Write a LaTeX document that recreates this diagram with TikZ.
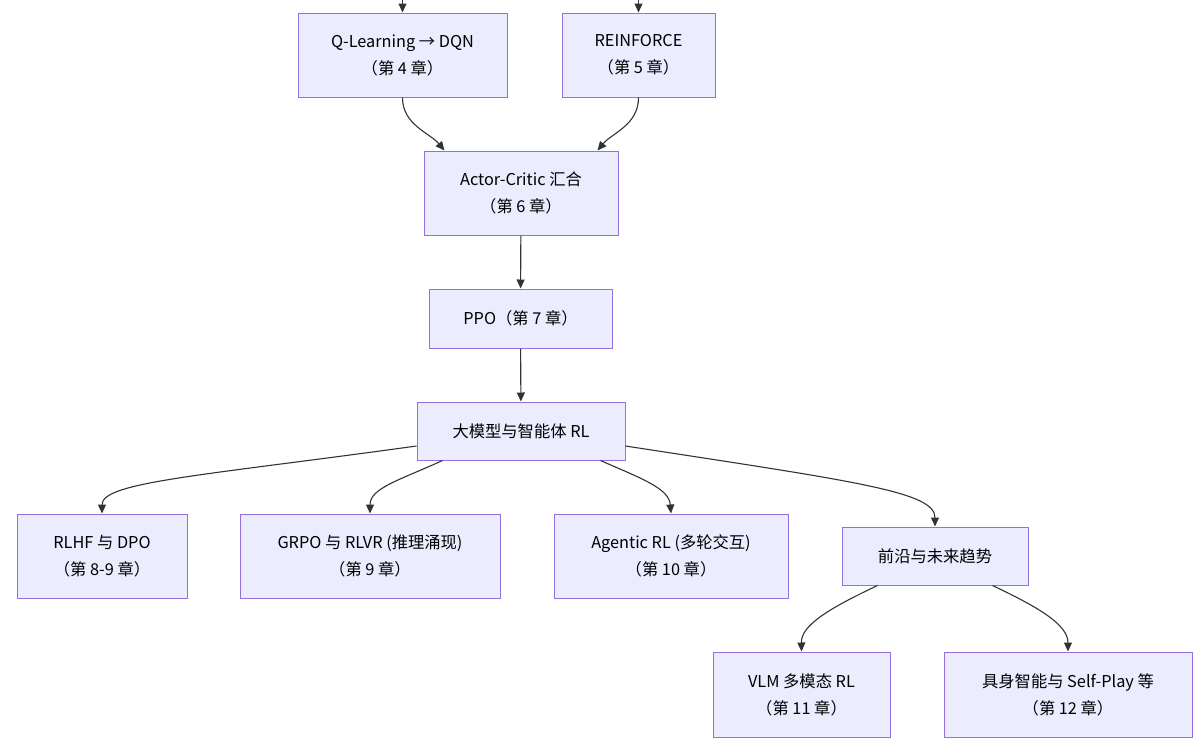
\documentclass[tikz,border=0pt]{standalone}
\usepackage{fontspec}
\setmainfont{Noto Sans CJK SC}
\usetikzlibrary{arrows.meta}
\definecolor{boxfill}{HTML}{ECECFF}
\definecolor{boxline}{HTML}{9370DB}
\definecolor{linkgray}{HTML}{333333}

\begin{document}
\begin{tikzpicture}[x=1pt,y=-1pt,
		box/.style={draw=boxline, fill=boxfill, line width=1pt, align=center, inner sep=0pt,
			font=\fontsize{16.3}{27}\selectfont},
		link/.style={draw=linkgray, line width=1.1pt, -{Triangle[length=9pt,width=8pt]}}]
		\useasboundingbox (0,0) rectangle (1200,753);
		
		% top row
		\node[box, minimum width=209pt, minimum height=84pt] (qdqn) at (402.5,55) {Q-Learning → DQN\\（第 4 章）};
		\node[box, minimum width=153pt, minimum height=84pt] (rein) at (638.5,55) {REINFORCE\\（第 5 章）};
		\coordinate (inq) at (402.5,0);
		\coordinate (inr) at (638.5,0);
		
		% middle
		\node[box, minimum width=194pt, minimum height=84pt] (ac) at (521,193) {Actor-Critic 汇合\\（第 6 章）};
		\node[box, minimum width=183pt, minimum height=59pt] (ppo) at (520.5,318.5) {PPO（第 7 章）};
		\node[box, minimum width=208pt, minimum height=58pt] (llm) at (521,431) {大模型与智能体 RL};
		
		% branches
		\node[box, minimum width=170pt, minimum height=84pt] (rlhf) at (102,556) {RLHF 与 DPO\\（第 8-9 章）};
		\node[box, minimum width=260pt, minimum height=84pt] (grpo) at (370,556) {GRPO 与 RLVR (推理涌现)\\（第 9 章）};
		\node[box, minimum width=234pt, minimum height=84pt] (agent) at (671,556) {Agentic RL (多轮交互)\\（第 10 章）};
		\node[box, minimum width=186pt, minimum height=58pt] (front) at (935,556) {前沿与未来趋势};
		
		% bottom
		\node[box, minimum width=177pt, minimum height=85pt] (vlm) at (801.5,694.5) {VLM 多模态 RL\\（第 11 章）};
		\node[box, minimum width=248pt, minimum height=85pt] (embod) at (1068,694.5) {具身智能与 Self-Play 等\\（第 12 章）};
		
		% links
		\draw[link] (inq) -- (qdqn);
		\draw[link] (inr) -- (rein);
		\draw[link] (qdqn.south) .. controls (402.5,125) and (430,133) .. ([xshift=21pt]ac.north west);
		\draw[link] (rein.south) .. controls (638.5,125) and (612,133) .. ([xshift=-21pt]ac.north east);
		\draw[link] (ac) -- (ppo);
		\draw[link] (ppo) -- (llm);
		\draw[link] ([yshift=-15pt]llm.west) .. controls (200,476) and (102,482) .. (rlhf.north);
		\draw[link] ([xshift=26pt]llm.south west) .. controls (400,480) and (370,488) .. (grpo.north);
		\draw[link] ([xshift=-25pt]llm.south east) .. controls (640,478) and (669,488) .. (agent.north);
		\draw[link] ([yshift=-15pt]llm.east) .. controls (860,482) and (935,492) .. (front.north);
		\draw[link] ([xshift=36pt]front.south west) .. controls (830,608) and (801,625) .. (vlm.north);
		\draw[link] ([xshift=-36pt]front.south east) .. controls (1040,608) and (1068,625) .. (embod.north);
	\end{tikzpicture}
\end{document}
